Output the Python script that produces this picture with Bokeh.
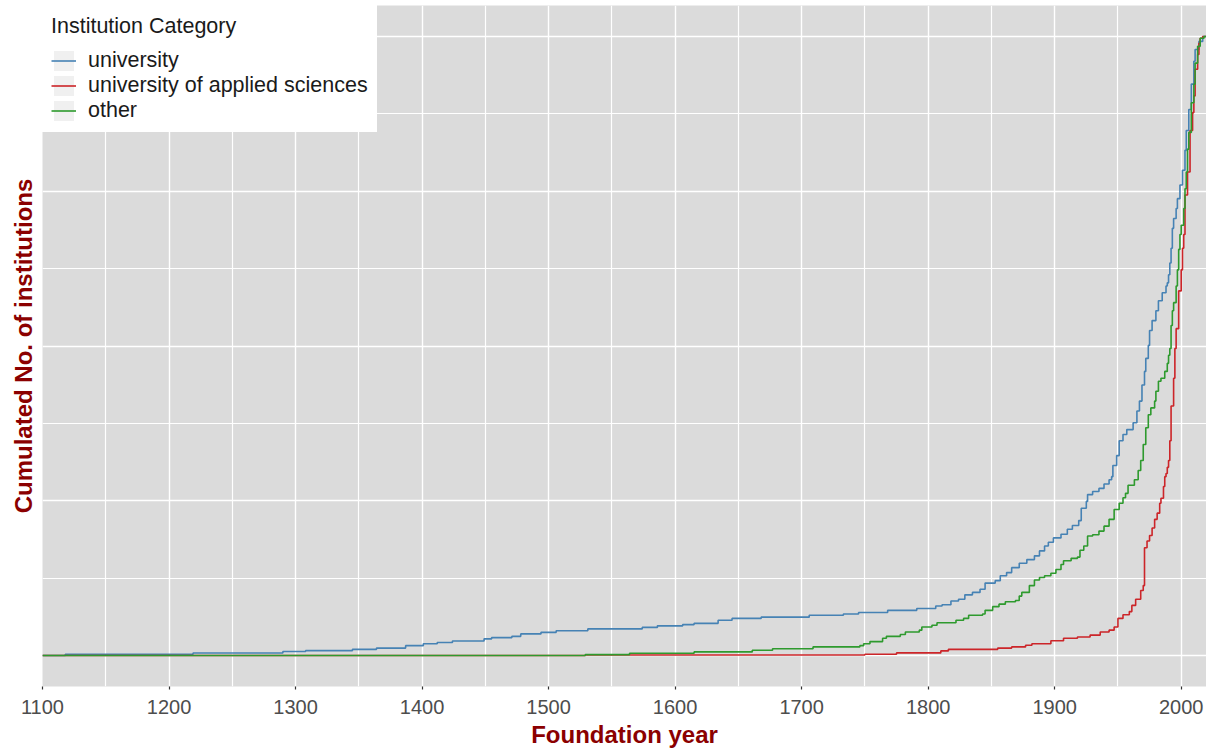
from bokeh.plotting import figure
from bokeh.models import Range1d, FixedTicker, Legend, LegendItem
from bokeh.embed import file_html
from bokeh.resources import INLINE

# ---- data: cumulative share of institutions by foundation year (step points) ----
X_START, X_END = 1100, 2020
TICK_YEARS = list(range(1100, 2001, 100))
Y_GRID = [0, 0.25, 0.5, 0.75, 1.0]
Y_GRID_MINOR = [0.125, 0.375, 0.625, 0.875]

uni_years = [1118, 1219, 1290, 1308, 1345, 1364, 1387, 1401, 1412, 1424, 1449, 1455,
             1471, 1478, 1494, 1506, 1531, 1574, 1586, 1606, 1615, 1634, 1645, 1668,
             1706, 1733, 1745, 1768, 1791, 1806, 1811, 1818, 1824, 1829, 1835, 1841,
             1845, 1853, 1857, 1862, 1866, 1872, 1878, 1884, 1888, 1892, 1895, 1899,
             1905, 1910, 1914, 1919, 1921, 1925, 1926, 1930, 1935, 1939, 1943, 1945,
             1946, 1949, 1951, 1954, 1957, 1962, 1965, 1967, 1969, 1971, 1972, 1974,
             1975, 1977, 1980, 1982, 1985, 1988, 1989, 1990, 1991, 1992, 1993, 1994,
             1996, 1997, 1999, 2001, 2003, 2004, 2006, 2008, 2010, 2011, 2014, 2017]
uni_share = [0.002, 0.004, 0.0065, 0.008, 0.010, 0.012, 0.016, 0.019, 0.021, 0.0235, 0.027, 0.029,
             0.031, 0.035, 0.0375, 0.040, 0.043, 0.0455, 0.048, 0.050, 0.052, 0.057, 0.060, 0.062,
             0.065, 0.067, 0.0695, 0.073, 0.076, 0.080, 0.082, 0.088, 0.091, 0.098, 0.102, 0.107,
             0.117, 0.121, 0.129, 0.134, 0.142, 0.149, 0.155, 0.161, 0.169, 0.177, 0.183, 0.190,
             0.196, 0.204, 0.210, 0.218, 0.238, 0.249, 0.260, 0.265, 0.270, 0.277, 0.284, 0.289,
             0.307, 0.323, 0.347, 0.357, 0.365, 0.376, 0.395, 0.411, 0.437, 0.459, 0.480, 0.501,
             0.525, 0.541, 0.557, 0.573, 0.586, 0.597, 0.602, 0.615, 0.634, 0.658, 0.690, 0.706,
             0.722, 0.738, 0.760, 0.784, 0.816, 0.848, 0.882, 0.923, 0.960, 0.979, 0.992, 1.0]

uas_years = [1529, 1750, 1775, 1810, 1816, 1855, 1866, 1877, 1882, 1897, 1907, 1918,
             1928, 1936, 1943, 1947, 1950, 1954, 1959, 1961, 1964, 1968, 1970, 1971,
             1973, 1975, 1977, 1979, 1981, 1983, 1984, 1986, 1987, 1988, 1989, 1990,
             1991, 1992, 1994, 1995, 1996, 1998, 2000, 2001, 2002, 2003, 2005, 2007,
             2009, 2010, 2011, 2013, 2014, 2015, 2017]
uas_share = [0.0008, 0.0021, 0.0043, 0.0075, 0.010, 0.012, 0.014, 0.0166, 0.019, 0.024, 0.028, 0.030,
             0.033, 0.038, 0.041, 0.046, 0.060, 0.066, 0.071, 0.081, 0.091, 0.105, 0.113, 0.174,
             0.185, 0.194, 0.206, 0.220, 0.230, 0.246, 0.254, 0.273, 0.289, 0.294, 0.304, 0.315,
             0.347, 0.403, 0.448, 0.496, 0.528, 0.589, 0.623, 0.658, 0.680, 0.744, 0.781, 0.848,
             0.877, 0.904, 0.947, 0.971, 0.989, 0.997, 1.0]

oth_years = [1529, 1564, 1615, 1661, 1677, 1709, 1746, 1749, 1754, 1764, 1767, 1778,
             1782, 1793, 1795, 1803, 1807, 1822, 1828, 1832, 1843, 1845, 1851, 1856,
             1861, 1869, 1872, 1874, 1880, 1884, 1888, 1892, 1897, 1901, 1905, 1907,
             1913, 1918, 1920, 1923, 1926, 1930, 1935, 1939, 1943, 1947, 1951, 1954,
             1956, 1958, 1963, 1966, 1968, 1970, 1972, 1974, 1976, 1979, 1980, 1982,
             1984, 1987, 1989, 1990, 1991, 1992, 1993, 1994, 1996, 1997, 1998, 1999,
             2000, 2002, 2003, 2004, 2005, 2006, 2008, 2010, 2011, 2013, 2015, 2018]
oth_share = [0.0015, 0.0037, 0.0059, 0.0085, 0.011, 0.014, 0.016, 0.019, 0.0225, 0.028, 0.031, 0.034,
             0.038, 0.041, 0.046, 0.049, 0.053, 0.057, 0.060, 0.065, 0.067, 0.073, 0.079, 0.083,
             0.087, 0.089, 0.096, 0.102, 0.113, 0.122, 0.126, 0.129, 0.133, 0.139, 0.147, 0.153,
             0.157, 0.159, 0.170, 0.177, 0.193, 0.195, 0.201, 0.209, 0.220, 0.236, 0.246, 0.255,
             0.262, 0.275, 0.284, 0.299, 0.315, 0.341, 0.368, 0.389, 0.400, 0.411, 0.427, 0.443,
             0.448, 0.459, 0.472, 0.485, 0.496, 0.533, 0.557, 0.570, 0.597, 0.623, 0.656, 0.680,
             0.695, 0.722, 0.754, 0.781, 0.818, 0.845, 0.893, 0.923, 0.957, 0.984, 0.997, 1.0]

categories = ["university", "university of applied sciences", "other"]
colors = ["#4682B4", "#CC2529", "#2E9A2E"]

FONT = "Liberation Sans"
TITLE_RED = "#8B0000"


def padded(years, share):
    # ECDF padded to the panel edges (like stat_ecdf(pad=TRUE))
    return [X_START] + list(years) + [X_END], [0.0] + list(share) + [1.0]


p = figure(width=1206, height=750, output_backend="svg", toolbar_location=None,
           x_range=Range1d(X_START, X_END), y_range=Range1d(-0.05, 1.05),
           min_border_left=42, min_border_right=0, min_border_top=5,
           background_fill_color="#DBDBDB", border_fill_color="white",
           outline_line_color=None)

# legend key background: zero-size rect, only visible as the grey legend key box
key_bg = p.rect(x=[X_START], y=[0.0], width=0, height=0,
                fill_color="#F0F0F0", line_color=None)

renderers = []
for (yrs, sh), col in zip([(uni_years, uni_share), (uas_years, uas_share), (oth_years, oth_share)], colors):
    xs, ys = padded(yrs, sh)
    r = p.step(xs, ys, mode="after", line_color=col, line_width=1.6)
    renderers.append(r)

# axes
p.xaxis.ticker = FixedTicker(ticks=TICK_YEARS, minor_ticks=[y + 50 for y in TICK_YEARS])
p.xaxis.axis_label = "Foundation year"
p.xaxis.axis_line_color = None
p.xaxis.major_tick_line_color = "#333333"
p.xaxis.major_tick_line_width = 1.2
p.xaxis.major_tick_out = 3
p.xaxis.major_tick_in = 0
p.xaxis.minor_tick_line_color = None
p.xaxis.major_label_text_font = FONT
p.xaxis.major_label_text_font_size = "20px"
p.xaxis.major_label_text_color = "#4D4D4D"
p.xaxis.major_label_standoff = 9
p.xaxis.axis_label_standoff = 4

p.yaxis.ticker = FixedTicker(ticks=[])
p.yaxis.axis_label = "Cumulated No. of institutions"
p.yaxis.axis_line_color = None
p.yaxis.major_tick_line_color = None
p.yaxis.minor_tick_line_color = None
p.yaxis.major_label_standoff = 0
p.yaxis.axis_label_standoff = 6

for ax in (p.xaxis, p.yaxis):
    ax.axis_label_text_font = FONT
    ax.axis_label_text_font_size = "24px"
    ax.axis_label_text_font_style = "bold"
    ax.axis_label_text_color = TITLE_RED

p.ygrid.ticker = FixedTicker(ticks=Y_GRID, minor_ticks=Y_GRID_MINOR)
for g in (p.xgrid, p.ygrid):
    g.grid_line_color = "white"
    g.grid_line_width = 1.4
    g.minor_grid_line_color = "white"
    g.minor_grid_line_width = 1.2

legend = Legend(
    items=[LegendItem(label=c, renderers=[key_bg, r]) for c, r in zip(categories, renderers)],
    location="top_left", title="Institution Category",
    title_text_font=FONT, title_text_font_size="21.5px", title_text_color="#1A1A1A",
    title_text_font_style="normal", title_standoff=9,
    label_text_font=FONT, label_text_font_size="21.5px", label_text_color="#1A1A1A",
    background_fill_color="white", background_fill_alpha=1.0,
    border_line_color="white", border_line_width=1,
    padding=8, spacing=0, margin=0, glyph_width=25, glyph_height=25, label_height=25,
    label_standoff=12,
)
p.add_layout(legend)

open("out.html", "w").write(file_html(p, INLINE))
